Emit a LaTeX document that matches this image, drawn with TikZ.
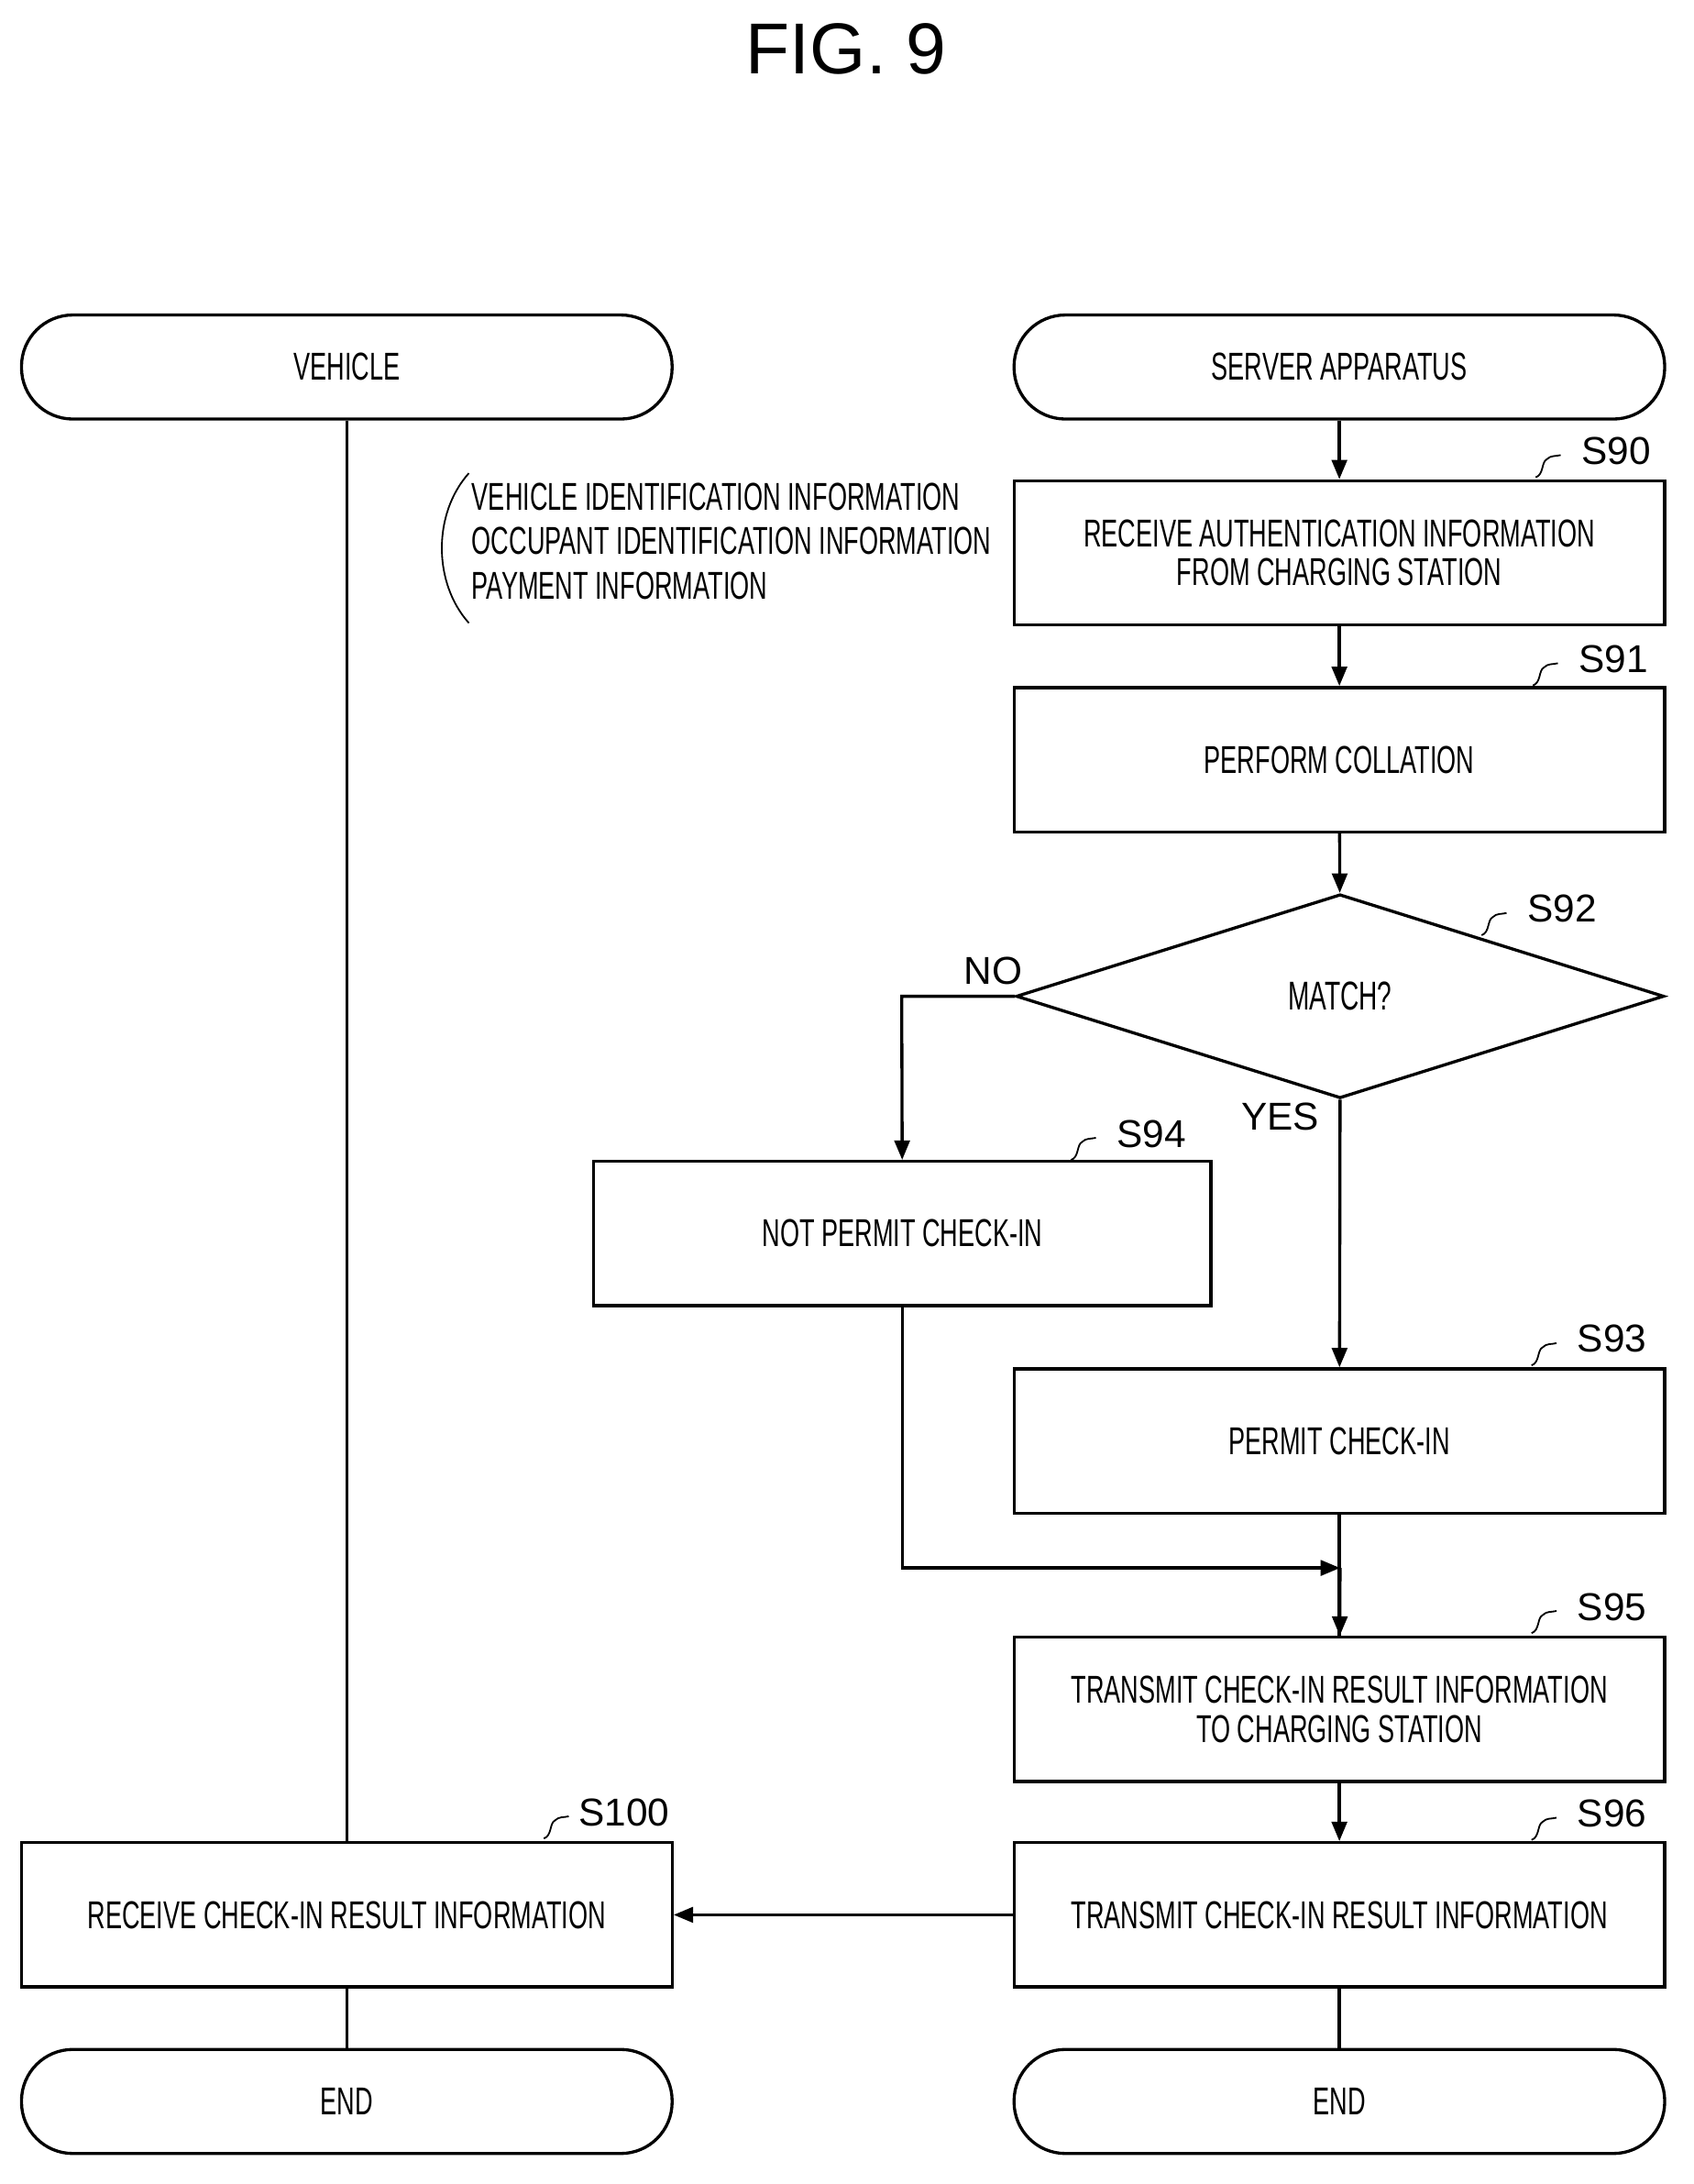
\documentclass[tikz,border=0pt]{standalone}
\usepackage{fontspec}
\setmainfont{Liberation Sans}
\newfontfamily\cond{Liberation Sans}[FakeStretch=0.64]
\usetikzlibrary{shapes.geometric,arrows.meta}
\begin{document}
\begin{tikzpicture}[x=1pt,y=-1pt,
  box/.style={draw,line width=2.2pt,minimum width=469pt,minimum height=104pt,align=center,font=\cond\fontsize{28}{28}\selectfont,inner sep=0},
  term/.style={box,rounded corners=37pt,minimum height=75pt},
  arr/.style={line width=2.2pt,-{Triangle[length=14pt,width=11pt]}},
  ln/.style={line width=2.2pt},
  lab/.style={font=\fontsize{28}{28}\selectfont}]
\useasboundingbox (0,0) rectangle (1221,1574);
\node[font=\fontsize{52}{52}\selectfont] (title) at (610,35) {FIG. 9};
\node[term] (veh) at (250,264.5) {VEHICLE};
\node[term] (srv) at (965.5,264.5) {SERVER APPARATUS};
\node[box] (s90) at (965.5,398.5) {RECEIVE AUTHENTICATION INFORMATION\\FROM CHARGING STATION};
\node[box] (s91) at (965.5,547.5) {PERFORM COLLATION};
\node[draw,line width=2.2pt,diamond,minimum width=467pt,minimum height=147pt,aspect=3.2,inner sep=0,font=\cond\fontsize{29}{26}\selectfont] (s92) at (966,718) {MATCH?};
\node[box,minimum width=445pt] (s94) at (650.5,889) {NOT PERMIT CHECK-IN};
\node[box] (s93) at (965.5,1038.5) {PERMIT CHECK-IN};
\node[box] (s95) at (965.5,1232) {TRANSMIT CHECK-IN RESULT INFORMATION\\TO CHARGING STATION};
\node[box] (s96) at (965.5,1380) {TRANSMIT CHECK-IN RESULT INFORMATION};
\node[box] (s100) at (250,1380) {RECEIVE CHECK-IN RESULT INFORMATION};
\node[term] (e1) at (250,1514.5) {END};
\node[term] (e2) at (965.5,1514.5) {END};
\coordinate (m) at (966,1130);
\coordinate (nl) at (650,718);
\draw[arr] (srv) -- (s90);
\draw[arr] (s90) -- (s91);
\draw[arr] (s91) -- (s92);
\draw[arr] (s92.south) -- (s93);
\draw[arr] (s92.west) -- (nl) -- (s94);
\draw[ln] (s93) -- (s95);
\draw[arr] (s94.south) |- (m);
\draw[arr] (m) -- (s95);
\draw[arr] (s95) -- (s96);
\draw[arr] (s96) -- (s100);
\draw[ln] (veh) -- (s100);
\draw[ln] (s100) -- (e1);
\draw[ln] (s96) -- (e2);
\node[lab] at (716,700) {NO};
\node[lab] at (923,805) {YES};
\foreach \n/\x/\y in {S90/1165/325,S91/1163/475,S92/1126/655,S94/830/817,S93/1162/965,S95/1162/1158,S96/1162/1307,S100/450/1306}{
  \node[lab] at (\x,\y) {\n};
  \draw[line width=1.2pt] (\x-58,\y+19) .. controls (\x-52,\y+17) and (\x-54,\y+8) .. (\x-50,\y+6) .. controls (\x-47,\y+3) and (\x-44,\y+4) .. (\x-40,\y+3);
}
\draw[line width=1.2pt] (338,341) .. controls (312,370) and (312,420) .. (338,449);
\node[anchor=north west,align=left,inner sep=0,font=\cond\fontsize{28}{32}\selectfont] (note) at (340,348) {VEHICLE IDENTIFICATION INFORMATION\\OCCUPANT IDENTIFICATION INFORMATION\\PAYMENT INFORMATION};
\end{tikzpicture}
\end{document}
